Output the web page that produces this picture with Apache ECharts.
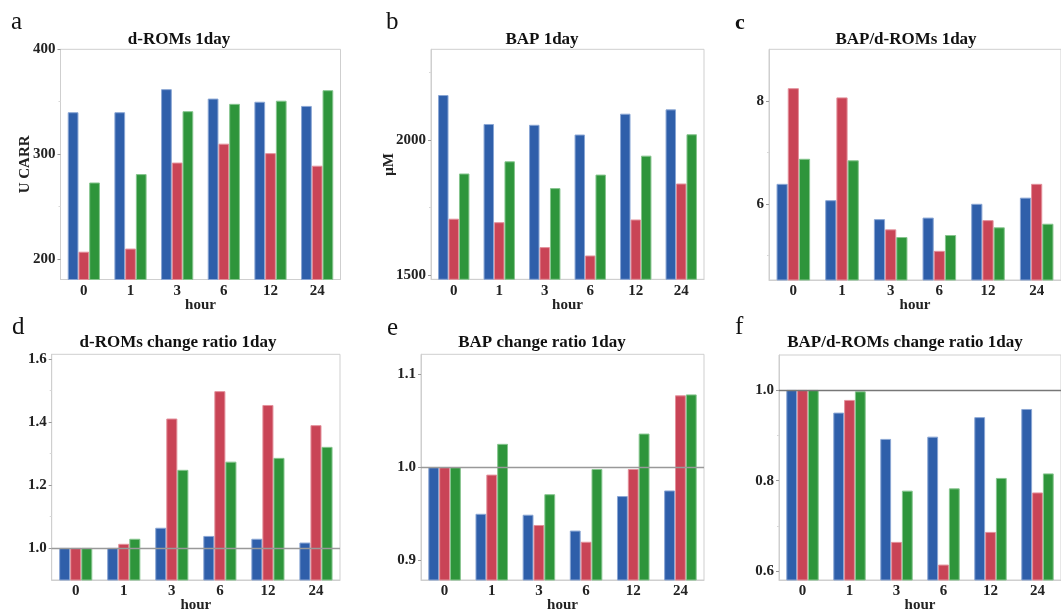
<!DOCTYPE html>
<html>
<head>
<meta charset="utf-8">
<script src="https://cdn.jsdelivr.net/npm/echarts@6/dist/echarts.min.js"></script>
<style>html,body{margin:0;padding:0;background:#fff;}#c{width:1061px;height:614px;}</style>
</head>
<body>
<div id="c"></div>
<script>
// ---- data ----
var categories = ['0', '1', '3', '6', '12', '24'];

var aBlue  = [340, 340, 362, 353, 350, 346];
var aRed   = [207, 210, 292, 310, 301, 289];
var aGreen = [273, 281, 341, 348, 351, 361];

var bBlue  = [2166, 2059, 2056, 2020, 2097, 2113];
var bRed   = [1709, 1696, 1604, 1573, 1706, 1839];
var bGreen = [1876, 1921, 1822, 1872, 1942, 2021];

var cBlue  = [6.39, 6.07, 5.70, 5.73, 6.00, 6.12];
var cRed   = [8.26, 8.08, 5.50, 5.08, 5.68, 6.39];
var cGreen = [6.88, 6.85, 5.35, 5.39, 5.54, 5.61];

var dBlue  = [1.0, 1.0, 1.064, 1.038, 1.029, 1.017];
var dRed   = [1.0, 1.013, 1.411, 1.498, 1.454, 1.39];
var dGreen = [1.0, 1.029, 1.248, 1.274, 1.286, 1.321];

var eBlue  = [1.0, 0.950, 0.949, 0.932, 0.969, 0.975];
var eRed   = [1.0, 0.992, 0.938, 0.920, 0.998, 1.077];
var eGreen = [1.0, 1.025, 0.971, 0.998, 1.036, 1.078];

var fBlue  = [1.0, 0.950, 0.892, 0.897, 0.940, 0.958];
var fRed   = [1.0, 0.978, 0.665, 0.615, 0.687, 0.774];
var fGreen = [1.0, 0.997, 0.778, 0.783, 0.806, 0.816];

var titles  = ['d-ROMs 1day', 'BAP 1day', 'BAP/d-ROMs 1day', 'd-ROMs change ratio 1day', 'BAP change ratio 1day', 'BAP/d-ROMs change ratio 1day'];
var letters = ['a', 'b', 'c', 'd', 'e', 'f'];
var yNames  = ['U CARR', '\u03bcM', '', '', '', ''];

var aTicks = [200, 300, 400],        aMinor = [250, 350];
var bTicks = [1500, 2000],           bMinor = [1750, 2250];
var cTicks = [6, 8],                 cMinor = [5, 7];
var dTicks = [1.0, 1.2, 1.4, 1.6],   dMinor = [1.1, 1.3, 1.5];
var eTicks = [0.9, 1.0, 1.1],        eMinor = [];
var fTicks = [0.6, 0.8, 1.0],        fMinor = [0.7, 0.9];

var ranges = [[180.5, 400], [1485, 2335], [4.51, 9.02], [0.898, 1.615], [0.879, 1.121], [0.581, 1.077]];
var refLines = [null, null, null, 1.0, 1.0, 1.0];

// ---- layout / style ----
var FONT = 'Liberation Serif';
var colors = ['#2f5faa', '#c94456', '#2e953b'];
var borders = ['#8aa6d4', '#e3909b', '#86c58e'];
var grids = [
  {left: 60.5, top: 49.3, width: 280, height: 230.2},
  {left: 431, top: 49.3, width: 273, height: 230},
  {left: 769, top: 49.3, width: 298, height: 230.7},
  {left: 51.7, top: 354.3, width: 288.3, height: 230.7},
  {left: 421, top: 354.3, width: 283, height: 230.7},
  {left: 779, top: 355, width: 290, height: 230}
];
var nameGaps = [28, 34, 28, 28, 28, 28];
var titlePos = [[179, 40], [542, 40], [906, 40], [178, 343], [542, 343], [905, 343]];
var letterPos = [[11, 22, 'normal', 25], [386, 22, 'normal', 25], [735, 23, 'bold', 22], [12, 327, 'normal', 25], [387, 328, 'normal', 25], [735, 327, 'normal', 25]];

var panels = [
  {vals: [aBlue, aRed, aGreen], ticks: aTicks, minor: aMinor, dec: 0},
  {vals: [bBlue, bRed, bGreen], ticks: bTicks, minor: bMinor, dec: 0},
  {vals: [cBlue, cRed, cGreen], ticks: cTicks, minor: cMinor, dec: 0},
  {vals: [dBlue, dRed, dGreen], ticks: dTicks, minor: dMinor, dec: 1},
  {vals: [eBlue, eRed, eGreen], ticks: eTicks, minor: eMinor, dec: 1},
  {vals: [fBlue, fRed, fGreen], ticks: fTicks, minor: fMinor, dec: 1}
];

var option = {
  animation: false,
  backgroundColor: '#fff',
  textStyle: {fontFamily: FONT},
  grid: [], xAxis: [], yAxis: [], series: [], graphic: []
};

panels.forEach(function (p, i) {
  var g = grids[i];
  option.grid.push({left: g.left, top: g.top, width: g.width, height: g.height,
    show: true, borderColor: '#cfcfcf', borderWidth: 1, backgroundColor: 'transparent'});
  option.xAxis.push({
    type: 'category', gridIndex: i, data: categories,
    name: 'hour', nameLocation: 'middle', nameGap: 18, nameMoveOverlap: false,
    nameTextStyle: {fontFamily: FONT, fontWeight: 'bold', fontSize: 15, color: '#222'},
    axisLine: {lineStyle: {color: '#cfcfcf'}}, axisTick: {show: false},
    axisLabel: {fontFamily: FONT, fontWeight: 'bold', fontSize: 15, color: '#222', margin: 4},
    splitLine: {show: false}
  });
  var dec = p.dec;
  option.yAxis.push({
    type: 'value', gridIndex: i, min: ranges[i][0], max: ranges[i][1],
    name: yNames[i], nameLocation: 'middle', nameGap: nameGaps[i], nameRotate: 90, nameMoveOverlap: false,
    nameTextStyle: {fontFamily: FONT, fontWeight: 'bold', fontSize: 15, color: '#222'},
    axisLine: {show: true, lineStyle: {color: '#cfcfcf'}},
    axisTick: {show: true, length: 3, customValues: p.ticks, lineStyle: {color: '#999'}},
    axisLabel: {customValues: p.ticks, fontFamily: FONT, fontWeight: 'bold', fontSize: 15, color: '#222', margin: 5,
      formatter: function (v) { return dec ? v.toFixed(dec) : String(v); }},
    splitLine: {show: false}
  });
  option.yAxis.push({
    type: 'value', gridIndex: i, min: ranges[i][0], max: ranges[i][1], position: 'left',
    axisLine: {show: false},
    axisTick: {show: p.minor.length > 0, length: 2, customValues: p.minor, lineStyle: {color: '#d8d8d8'}},
    axisLabel: {show: false}, splitLine: {show: false}
  });
  p.vals.forEach(function (arr, k) {
    var s = {
      type: 'bar', xAxisIndex: i, yAxisIndex: i * 2, data: arr,
      barGap: '0%', barCategoryGap: '31%',
      itemStyle: {color: colors[k], borderColor: borders[k], borderWidth: 1},
      silent: true
    };
    if (k === 2 && refLines[i] !== null) {
      s.markLine = {silent: true, symbol: 'none', label: {show: false},
        lineStyle: {color: i === 5 ? '#777' : '#999', type: 'solid', width: 1.3},
        data: [{yAxis: refLines[i]}]};
    }
    option.series.push(s);
  });
  option.graphic.push({type: 'text', x: titlePos[i][0], y: titlePos[i][1], silent: true,
    style: {text: titles[i], fill: '#111', font: 'bold 17px "' + FONT + '"', textAlign: 'center', textVerticalAlign: 'middle'}});
  var L = letterPos[i];
  option.graphic.push({type: 'text', x: L[0], y: L[1], silent: true,
    style: {text: letters[i], fill: '#111', font: L[2] + ' ' + L[3] + 'px "' + FONT + '"', textAlign: 'left', textVerticalAlign: 'middle'}});
});

var chart = echarts.init(document.getElementById('c'), null, {renderer: 'canvas'});
chart.setOption(option);
</script>
</body>
</html>
